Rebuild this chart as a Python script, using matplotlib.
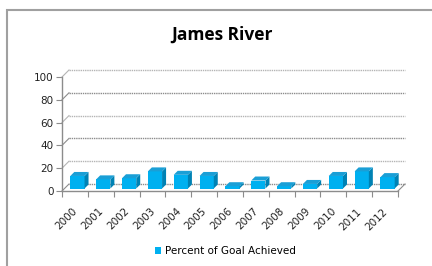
import numpy as np
import matplotlib.pyplot as plt
from matplotlib.patches import Polygon, Rectangle, Patch
from matplotlib.transforms import offset_copy

# Data
years = ['2000', '2001', '2002', '2003', '2004', '2005', '2006',
         '2007', '2008', '2009', '2010', '2011', '2012']
percent = [11, 8, 9, 15, 12, 11, 2, 7, 2, 4, 11, 15, 10]
y_ticks = [0, 20, 40, 60, 80, 100]

front_col = '#00b0f0'
side_col = '#0082b4'
top_col = '#1a9fd6'
grid_dark = '#8c8c8c'
grid_light = '#b4b4b4'

fig = plt.figure(figsize=(4.32, 2.66), dpi=100)
ax = fig.add_axes([62 / 432, 75 / 266, 336 / 432, 114 / 266])
n = len(years)
ax.set_xlim(0, n)
ax.set_ylim(0, 100)

depth = 7      # wall depth in pixels
bdepth = 4     # bar depth in pixels
back = offset_copy(ax.transData, fig, x=depth, y=depth, units='dots')
mid = offset_copy(ax.transData, fig, x=depth / 2 - 1, y=depth / 2 - 1, units='dots')

# back wall gridlines and left-wall diagonals
for i, t in enumerate(y_ticks):
    c = grid_light if i % 2 else grid_dark
    if t == 0:
        c = grid_dark
    ax.plot([0, n], [t, t], color=c, lw=1, ls=(0, (1, 0.6)), transform=back, clip_on=False)
    p0 = ax.transData.transform((0, t))
    ax.plot([p0[0], p0[0] + depth], [p0[1], p0[1] + depth], color=c, lw=0.8,
            transform=None, clip_on=False)

# floor right diagonal
p1 = ax.transData.transform((n, 0))
ax.plot([p1[0], p1[0] + depth], [p1[1], p1[1] + depth], color=grid_dark, lw=0.8,
        transform=None, clip_on=False)

# bars with fake 3D depth
x = np.arange(n) + 0.5
w = 0.55
ax.bar(x, percent, width=w, color=front_col, transform=mid, zorder=3, clip_on=False)
for xi, v in zip(x, percent):
    fl = mid.transform((xi - w / 2, v))
    fr = mid.transform((xi + w / 2, v))
    br = mid.transform((xi + w / 2, 0))
    side = Polygon([br, fr, fr + bdepth, br + bdepth], closed=True, transform=None,
                   facecolor=side_col, edgecolor='none', zorder=3, clip_on=False)
    top = Polygon([fl, fr, fr + bdepth, fl + bdepth], closed=True, transform=None,
                  facecolor=top_col, edgecolor='none', zorder=3, clip_on=False)
    ax.add_patch(side)
    ax.add_patch(top)

# axes styling
for s in ['top', 'right']:
    ax.spines[s].set_visible(False)
for s in ['left', 'bottom']:
    ax.spines[s].set_color(grid_dark)
    ax.spines[s].set_linewidth(1)
ax.patch.set_alpha(0)

ax.set_yticks(y_ticks)
ax.set_yticklabels([str(t) for t in y_ticks], fontsize=7.5, color='#222222')
ax.tick_params(axis='y', length=4, color=grid_dark, pad=2)

ax.set_xticks(np.arange(n + 1))
ax.set_xticklabels([])
ax.tick_params(axis='x', which='major', length=4, color=grid_dark)
ax.set_xticks(x - 0.1, minor=True)
ax.set_xticklabels(years, minor=True, rotation=45, ha='right', va='top',
                   fontsize=7.5, color='#222222', rotation_mode='anchor')
ax.tick_params(axis='x', which='minor', length=0, pad=11)

fig.text(0.515, 0.87, 'James River', ha='center', va='center',
         fontsize=12.5, fontweight='bold', family='Open Sans')

fig.legend(handles=[Patch(facecolor=front_col, label='Percent of Goal Achieved')],
           loc='center', bbox_to_anchor=(0.522, 0.056), frameon=False,
           fontsize=7.5, handlelength=0.6, handleheight=0.6, handletextpad=0.4)

# chart border
fig.add_artist(Rectangle((7 / 432, -0.2), 1.2, 1.2 - 10 / 266, transform=fig.transFigure,
                         fill=False, edgecolor='#a0a0a0', lw=1.5))

fig.savefig('out.png', dpi=100)
